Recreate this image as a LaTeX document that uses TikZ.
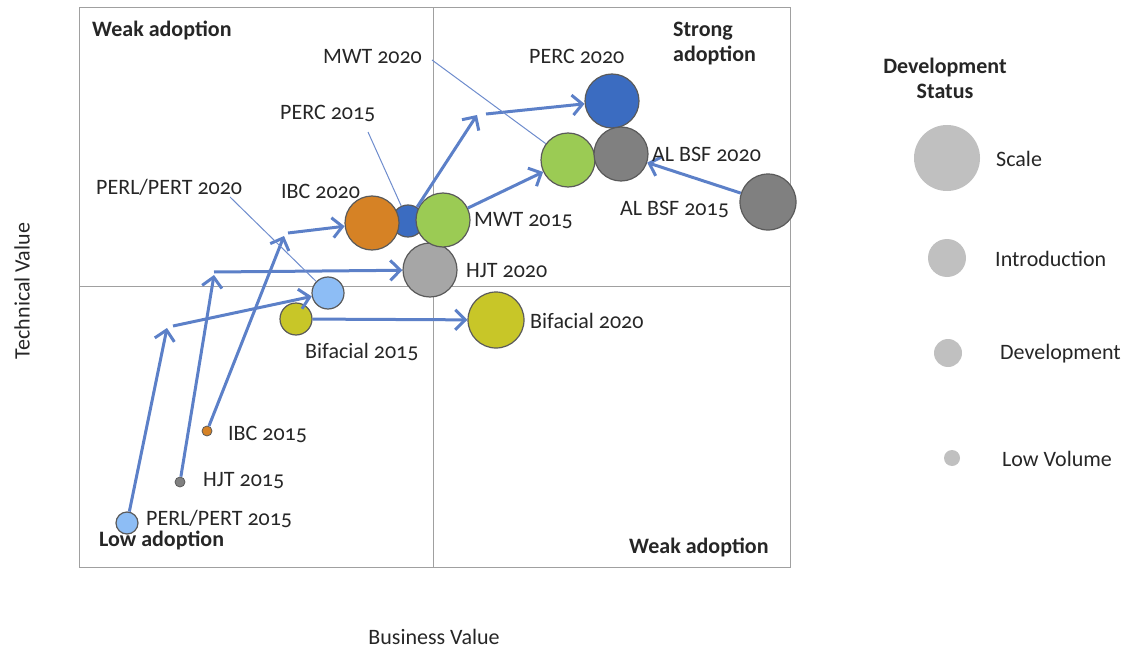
\documentclass[tikz,border=0pt]{standalone}
\usepackage{fontspec}
\setmainfont{Carlito}[Numbers=OldStyle]
\usetikzlibrary{arrows.meta}
\definecolor{arrowblue}{RGB}{92,128,200}
\definecolor{calloutblue}{RGB}{110,140,205}
\definecolor{percblue}{RGB}{59,108,193}
\definecolor{mwtgreen}{RGB}{155,203,84}
\definecolor{darkgray}{RGB}{128,128,128}
\definecolor{lightgray2}{RGB}{166,166,166}
\definecolor{ibcorange}{RGB}{214,130,37}
\definecolor{bifyellow}{RGB}{200,198,40}
\definecolor{perlblue}{RGB}{141,189,245}
\definecolor{legendgray}{RGB}{192,192,192}
\definecolor{framegray}{RGB}{160,160,160}
\definecolor{outlinegray}{RGB}{90,90,90}
\definecolor{textcol}{RGB}{38,38,38}
\begin{document}
\begin{tikzpicture}[x=1pt,y=-1pt,
  bubble/.style={circle, draw=outlinegray, line width=1.2pt, inner sep=0pt, minimum size=#1},
  legbubble/.style={circle, fill=legendgray, inner sep=0pt, minimum size=#1},
  lbl/.style={font=\fontsize{22}{25}\selectfont, inner sep=0pt, anchor=west, text=textcol},
  ttl/.style={font=\fontsize{22}{25}\selectfont\bfseries, inner sep=0pt, anchor=west, text=textcol},
  arr/.style={draw=arrowblue, line width=3pt, -{Straight Barb[length=10pt,width=20pt]}},
  callout/.style={draw=calloutblue, line width=1pt}]
\useasboundingbox (0,0) rectangle (1124,650);

% frame and quadrants
\draw[framegray, line width=1pt] (79,8) rectangle (790,567);
\draw[framegray, line width=1pt] (433,8) -- (433,567);
\draw[framegray, line width=1pt] (79,286) -- (790,286);

% bubbles (back to front)
\node[bubble=32pt, fill=percblue] (perc15) at (408,221) {};
\node[bubble=54pt, fill=ibcorange] (ibc20) at (372,223) {};
\node[bubble=54pt, fill=lightgray2] (hjt20) at (430,270) {};
\node[bubble=54pt, fill=mwtgreen] (mwt15) at (443,220) {};
\node[bubble=54pt, fill=percblue] (perc20) at (612,101) {};
\node[bubble=54pt, fill=mwtgreen] (mwt20) at (568,160) {};
\node[bubble=54pt, fill=darkgray] (alb20) at (621,154) {};
\node[bubble=56pt, fill=darkgray] (alb15) at (768,202) {};
\node[bubble=32pt, fill=perlblue] (pp20) at (328,293) {};
\node[bubble=32pt, fill=bifyellow] (bif15) at (296,319) {};
\node[bubble=56pt, fill=bifyellow] (bif20) at (496,320) {};
\node[bubble=10pt, fill=ibcorange, line width=0.8pt] (ibc15) at (207,431) {};
\node[bubble=10pt, fill=darkgray, line width=0.8pt] (hjt15) at (180,482) {};
\node[bubble=22pt, fill=perlblue] (pp15) at (127,523) {};

% bend points
\coordinate (b1) at (167,328);
\coordinate (b1s) at (173,326);
\coordinate (b2) at (214,275);
\coordinate (b2s) at (214,272);
\coordinate (b3) at (284,236);
\coordinate (b3s) at (288,233);
\coordinate (b4) at (477,115);
\coordinate (b4s) at (486,114);

% arrows
\draw[arr] (pp15) -- (b1);
\draw[arr] (b1s) -- (pp20);
\draw[arr] (hjt15) -- (b2);
\draw[arr] (b2s) -- (hjt20);
\draw[arr] (ibc15) -- (b3);
\draw[arr] (b3s) -- (ibc20);
\draw[arr] (perc15) -- (b4);
\draw[arr] (b4s) -- (perc20);
\draw[arr] (mwt15) -- (mwt20);
\draw[arr] (alb15) -- (alb20);
\draw[arr] (bif15) -- (bif20);

% callouts
\coordinate (cmwt) at (432,60);
\coordinate (cperc) at (368,132);
\coordinate (cpp) at (230,197);
\draw[callout] (cmwt) -- (mwt20);
\draw[callout] (cperc) -- (perc15);
\draw[callout] (cpp) -- (pp20);

% labels
\node[lbl] (lmwt20) at (323,57) {MWT 2020};
\node[lbl] (lperc15) at (280,113) {PERC 2015};
\node[lbl] (lpp20) at (96,187) {PERL/PERT 2020};
\node[lbl] (libc20) at (281,191) {IBC 2020};
\node[lbl] (lperc20) at (529,56) {PERC 2020};
\node[lbl] (lalb20) at (652,154) {AL BSF 2020};
\node[lbl] (lalb15) at (620,209) {AL BSF 2015};
\node[lbl] (lmwt15) at (474,221) {MWT 2015};
\node[lbl] (lhjt20) at (466,271) {HJT 2020};
\node[lbl] (lbif20) at (530,321) {Bifacial 2020};
\node[lbl] (lbif15) at (305,352) {Bifacial 2015};
\node[lbl] (libc15) at (228,434) {IBC 2015};
\node[lbl] (lhjt15) at (203,481) {HJT 2015};
\node[lbl] (lpp15) at (146,519) {PERL/PERT 2015};

% quadrant titles
\node[ttl] (tweak1) at (92,30) {Weak adoption};
\node[ttl, align=left, anchor=north west] (tstrong) at (673,22) {Strong\\adoption};
\node[ttl] (tlow) at (99,540) {Low adoption};
\node[ttl] (tweak2) at (629,547) {Weak adoption};

% axis titles
\node[lbl, anchor=center, rotate=90] (yaxis) at (22,291) {Technical Value};
\node[lbl, anchor=center] (xaxis) at (434,637) {Business Value};

% legend
\node[ttl, anchor=north, align=center] (legtitle) at (945,58) {Development\\Status};
\node[legbubble=66pt] (lgscale) at (947,158) {};
\node[legbubble=38pt] (lgintro) at (947,258) {};
\node[legbubble=28pt] (lgdev) at (948,353) {};
\node[legbubble=16pt] (lglow) at (952,458) {};
\node[lbl] (txscale) at (996,159) {Scale};
\node[lbl] (txintro) at (995,259) {Introduction};
\node[lbl] (txdev) at (1000,354) {Development};
\node[lbl] (txlow) at (1002,459) {Low Volume};
\end{tikzpicture}
\end{document}
